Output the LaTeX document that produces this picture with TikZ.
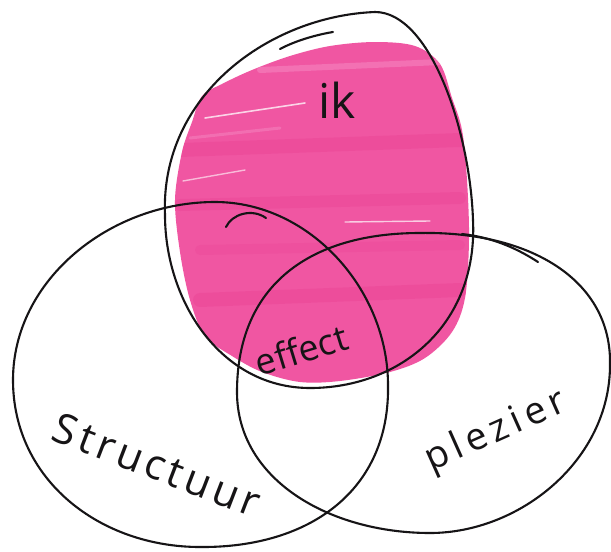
\documentclass[tikz,border=0pt]{standalone}
\usepackage{fontspec}
\setmainfont{Open Sans}
\definecolor{inkpink}{RGB}{240,86,162}
\definecolor{inkpinkdark}{RGB}{232,58,142}
\definecolor{inkpinklight}{RGB}{246,140,196}
\definecolor{inkline}{RGB}{22,20,22}
\begin{document}
\begin{tikzpicture}[x=1pt,y=-1pt,
  contour/.style={draw=inkline, line width=2.1pt, line cap=round, line join=round},
  hand/.style={font=\fontsize{#1}{#1}\selectfont, text=inkline, inner sep=0pt},
  streak/.style={line width=#1, line cap=round},
]
\useasboundingbox[fill=white] (0,0) rectangle (611,552);

% pink marker fill
\begin{scope}
\clip plot[smooth cycle, tension=0.55] coordinates {
  (202,96) (222,84) (252,70) (290,56) (330,46) (375,42) (415,46) (440,64)
  (452,98) (462,130) (467,180) (469,240) (465,298) (452,332) (425,358)
  (390,372) (340,381) (300,382) (262,372) (232,356) (205,336) (190,300)
  (180,252) (175,200) (182,152) (192,122)};
\fill[inkpink] (150,20) rectangle (480,400);
\draw[inkpinkdark, opacity=0.3, streak=14pt] (180,150) -- (460,140);
\draw[inkpinkdark, opacity=0.25, streak=12pt] (180,205) -- (460,198);
\draw[inkpinkdark, opacity=0.3, streak=14pt] (200,300) -- (460,290);
\draw[inkpinkdark, opacity=0.2, streak=10pt] (200,250) -- (460,245);
\draw[inkpinklight, opacity=0.5, streak=6pt] (260,70) -- (440,62);
\draw[white, opacity=0.75, streak=1.6pt] (205,118) -- (305,103);
\draw[white, opacity=0.6, streak=1.4pt] (183,181) -- (245,170);
\draw[white, opacity=0.7, streak=1.4pt] (345,222) -- (430,221);
\draw[inkpinklight, opacity=0.45, streak=3pt] (190,138) -- (280,128);
\end{scope}

% egg "ik"
\draw[contour] (375,12) .. controls (430,12) and (470,130) .. (473,220)
  .. controls (478,325) and (400,388) .. (310,388)
  .. controls (220,388) and (165,300) .. (165,215)
  .. controls (160,95) and (270,16) .. (375,12) -- cycle;
\draw[contour] (280,49) .. controls (295,41) and (315,35) .. (333,32);

% left circle "Structuur"
\draw[contour] (13,380) .. controls (13,280) and (110,202) .. (215,202)
  .. controls (310,202) and (388,290) .. (388,385)
  .. controls (390,490) and (310,548) .. (200,547)
  .. controls (100,547) and (13,480) .. (13,380) -- cycle;
\draw[contour] (226,227) .. controls (232,214) and (252,208) .. (266,218);

% right circle "plezier"
\draw[contour] (237,392) .. controls (237,285) and (310,233) .. (420,233)
  .. controls (530,231) and (612,280) .. (610,365)
  .. controls (610,460) and (520,533) .. (430,533)
  .. controls (330,533) and (237,480) .. (237,392) -- cycle;
\draw[contour] (462,234) .. controls (490,237) and (515,247) .. (538,262);

% labels
\node[hand=48] (ik) at (337,100) {ik};
\node[hand=36, rotate=17] (effect) at (301,350) {effect};
\node[hand=42, rotate=-21] (structuur) at (157,465) {\addfontfeature{LetterSpace=10}Structuur};
\node[hand=38, rotate=24] (plezier) at (496,432) {\addfontfeature{LetterSpace=14}plezier};
\end{tikzpicture}
\end{document}
